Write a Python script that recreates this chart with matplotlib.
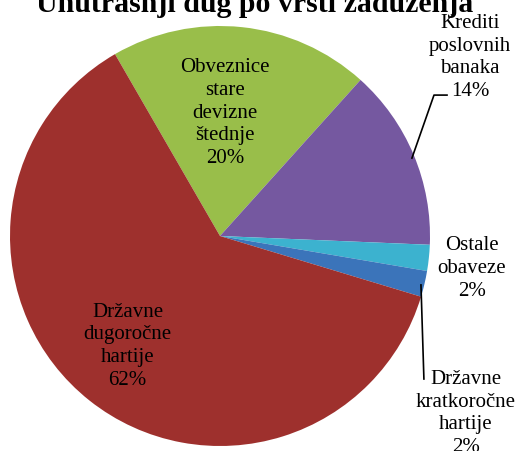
import matplotlib.pyplot as plt

plt.rcParams['font.family'] = ['Liberation Serif', 'DejaVu Serif']

categories = ['Obveznice\nstare\ndevizne\nštednje', 'Krediti\nposlovnih\nbanaka',
              'Ostale\nobaveze', 'Državne\nkratkoročne\nhartije', 'Državne\ndugoročne\nhartije']
values = [20, 14, 2, 2, 62]
colors = ['#99BE4A', '#7558A0', '#3CB2CF', '#3B74BA', '#9E302D']

# label positions (data coords, pie radius = 1)
label_pos = [(0.024, 0.59), (1.19, 0.855), (1.20, -0.15), (1.17, -0.84), (-0.44, -0.52)]

fig = plt.figure(figsize=(5.17, 4.52), dpi=100)
ax = fig.add_axes([10 / 517, 5 / 452, 420 / 517, 420 / 452])

wedges, _ = ax.pie(values, colors=colors, startangle=120, counterclock=False,
                   radius=1, wedgeprops=dict(linewidth=0))
ax.set_xlim(-1, 1)
ax.set_ylim(-1, 1)
ax.set_aspect('equal')
ax.axis('off')

for cat, v, (x, y) in zip(categories, values, label_pos):
    ax.text(x, y, f'{cat}\n{v}%', ha='center', va='center', fontsize=15,
            linespacing=1.27, clip_on=False)

# leader lines
ax.plot([0.914, 1.019, 1.081], [0.371, 0.671, 0.671], color='black', lw=1.2, clip_on=False)
ax.plot([0.957, 0.971], [-0.233, -0.681], color='black', lw=1.2, clip_on=False)

fig.text(0.493, 1 - 12 / 452, 'Unutrašnji dug po vrsti zaduženja', ha='center', va='baseline',
         fontsize=21.5, fontweight='bold')

fig.savefig('out.png', dpi=100)
